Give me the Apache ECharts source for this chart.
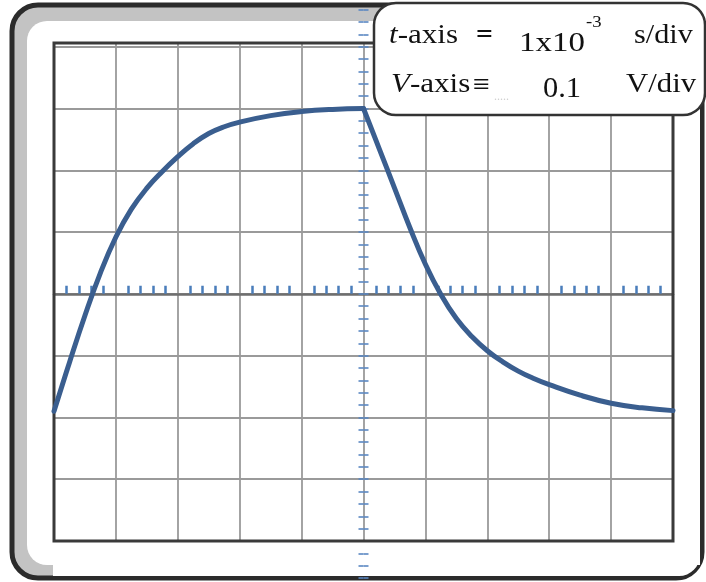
<!DOCTYPE html>
<html>
<head>
<meta charset="utf-8">
<script src="https://cdn.jsdelivr.net/npm/echarts@6/dist/echarts.min.js"></script>
<style>
  html, body { margin: 0; padding: 0; background: #ffffff; }
  #scope { width: 706px; height: 582px; }
</style>
</head>
<body>
<div id="scope"></div>
<script>
// Oscilloscope trace: charging to the peak, then discharging.
// Time in ms (1 ms/div), voltage in V (0.1 V/div).
const riseTimeMs = [0, 0.25, 0.5, 0.75, 1.0, 1.25, 1.5, 1.75, 2.0, 2.25, 2.5, 2.75, 3.0, 3.5, 4.0, 4.5, 5.0];
const riseVolts  = [-0.190, -0.111, -0.035, 0.034, 0.092, 0.137, 0.171, 0.198, 0.222, 0.243, 0.2595, 0.2705, 0.278, 0.2885, 0.295, 0.2985, 0.300];
const fallTimeMs = [5.0, 5.25, 5.5, 5.75, 6.0, 6.25, 6.5, 6.75, 7.0, 7.25, 7.5, 7.75, 8.0, 8.5, 9.0, 9.5, 10.0];
const fallVolts  = [0.300, 0.236, 0.1715, 0.107, 0.048, -0.001, -0.040, -0.069, -0.092, -0.110, -0.125, -0.137, -0.147, -0.164, -0.177, -0.1845, -0.189];

// Scale settings shown on the screen
const timeScaleText = ['t', '-axis', '=', '1x10', '-3', 's/div'];
const voltScaleText = ['V', '-axis', '\u2261', '0.1', 'V/div'];

const pairs = (xs, ys) => xs.map((x, i) => [x, ys[i]]);

const chart = echarts.init(document.getElementById('scope'), null, { renderer: 'canvas' });

const serif = "'Liberation Serif', 'DejaVu Serif', serif";
const traceColor = '#3a5e8f';
const tickBlue = '#4a7dbb';

chart.setOption({
  animation: false,
  backgroundColor: '#ffffff',
  grid: [
    // screen graticule: 10 x 8 divisions
    { left: 54, top: 43, width: 619, height: 498, show: true,
      borderColor: '#3a3a3a', borderWidth: 3, backgroundColor: 'transparent', z: 1 },
    // centre vertical scale, running the full height of the bezel
    { left: 54, top: 9.6, width: 619, height: 568.5, show: false }
  ],
  xAxis: [
    { gridIndex: 0, type: 'value', min: 0, max: 10, interval: 1,
      axisLine: { show: true, onZero: true, lineStyle: { color: '#6e6e6e', width: 2.5 } },
      axisTick: { show: false, inside: true },
      minorTick: { show: true, splitNumber: 5, length: 8, lineStyle: { color: tickBlue, width: 2.5 } },
      axisLabel: { show: false },
      splitLine: { show: true, lineStyle: { color: '#9a9a9a', width: 1.8 } } },
    { gridIndex: 1, type: 'value', min: -5, max: 5, show: false, axisLine: { onZero: false } },
    { gridIndex: 1, type: 'value', min: -5, max: 5, show: false, axisLine: { onZero: false } }
  ],
  yAxis: [
    { gridIndex: 0, type: 'value', min: -0.4, max: 0.406, interval: 0.1,
      axisLine: { show: false }, axisTick: { show: false }, axisLabel: { show: false },
      splitLine: { show: true, lineStyle: { color: '#9a9a9a', width: 1.8 } } },
    { gridIndex: 1, type: 'value', position: 'left', min: -4.6, max: 4.6, interval: 0.2,
      axisLine: { show: true, onZero: true, lineStyle: { color: 'rgba(0,0,0,0)' } },
      axisTick: { show: true, length: 5, lineStyle: { color: '#5a87c2', width: 1.6 } },
      axisLabel: { show: false }, splitLine: { show: false } },
    { gridIndex: 1, type: 'value', position: 'right', min: -4.6, max: 4.6, interval: 0.2,
      axisLine: { show: true, onZero: true, lineStyle: { color: 'rgba(0,0,0,0)' } },
      axisTick: { show: true, length: 5, lineStyle: { color: '#5a87c2', width: 1.6 } },
      axisLabel: { show: false }, splitLine: { show: false } }
  ],
  series: [
    { name: 'charge', type: 'line', xAxisIndex: 0, yAxisIndex: 0,
      data: pairs(riseTimeMs, riseVolts), smooth: 0.45,
      showSymbol: false, symbol: 'none', z: 5,
      lineStyle: { color: traceColor, width: 5, cap: 'round' } },
    { name: 'discharge', type: 'line', xAxisIndex: 0, yAxisIndex: 0,
      data: pairs(fallTimeMs, fallVolts), smooth: 0.45,
      showSymbol: false, symbol: 'none', z: 5,
      lineStyle: { color: traceColor, width: 5, cap: 'round' } }
  ],
  graphic: [
    // bezel: dark rim with a grey inner band on the top and left
    { type: 'rect', z: -20, shape: { x: 12, y: 5, width: 690, height: 573, r: 26 },
      style: { fill: '#c3c3c3', stroke: '#2b2b2b', lineWidth: 5 } },
    { type: 'rect', z: -19, shape: { x: 27, y: 21, width: 673, height: 544, r: [20, 20, 0, 20] },
      style: { fill: '#ffffff' } },
    { type: 'rect', z: -19, shape: { x: 53, y: 555, width: 647, height: 21, r: [0, 0, 24, 0] },
      style: { fill: '#ffffff' } },
    // scale read-out panel
    { type: 'rect', z: 50, shape: { x: 374, y: 3, width: 331, height: 112, r: 22 },
      style: { fill: '#ffffff', stroke: '#333333', lineWidth: 2.5 } },
    { type: 'text', z: 51, x: 389, y: 36, scaleX: 1.15,
      style: { text: '{it|' + timeScaleText[0] + '}' + timeScaleText[1], font: '27px ' + serif, fill: '#111',
               verticalAlign: 'middle', rich: { it: { fontStyle: 'italic', fontSize: 27, fontFamily: serif } } } },
    { type: 'text', z: 51, x: 476, y: 36, scaleX: 1.1,
      style: { text: timeScaleText[2], font: 'bold 27px ' + serif, fill: '#111', verticalAlign: 'middle' } },
    { type: 'text', z: 51, x: 519, y: 44, scaleX: 1.22,
      style: { text: timeScaleText[3], font: '27px ' + serif, fill: '#111', verticalAlign: 'middle' } },
    { type: 'text', z: 51, x: 586, y: 23, scaleX: 1.1,
      style: { text: timeScaleText[4], font: '17px ' + serif, fill: '#111', verticalAlign: 'middle' } },
    { type: 'text', z: 51, x: 634, y: 36, scaleX: 1.12,
      style: { text: timeScaleText[5], font: '27px ' + serif, fill: '#111', verticalAlign: 'middle' } },
    { type: 'text', z: 51, x: 391, y: 85, scaleX: 1.15,
      style: { text: '{it|' + voltScaleText[0] + '}' + voltScaleText[1], font: '27px ' + serif, fill: '#111',
               verticalAlign: 'middle', rich: { it: { fontStyle: 'italic', fontSize: 27, fontFamily: serif } } } },
    { type: 'text', z: 51, x: 473, y: 86, scaleX: 1.0,
      style: { text: voltScaleText[2], font: '30px ' + serif, fill: '#111', verticalAlign: 'middle' } },
    { type: 'text', z: 51, x: 494, y: 97,
      style: { text: '.....', font: '12px ' + serif, fill: '#cfcfcf', verticalAlign: 'middle' } },
    { type: 'text', z: 51, x: 543, y: 89, scaleX: 1.05,
      style: { text: voltScaleText[3], font: '29px ' + serif, fill: '#111', verticalAlign: 'middle' } },
    { type: 'text', z: 51, x: 626, y: 85, scaleX: 1.14,
      style: { text: voltScaleText[4], font: '27px ' + serif, fill: '#111', verticalAlign: 'middle' } }
  ]
});
</script>
</body>
</html>
